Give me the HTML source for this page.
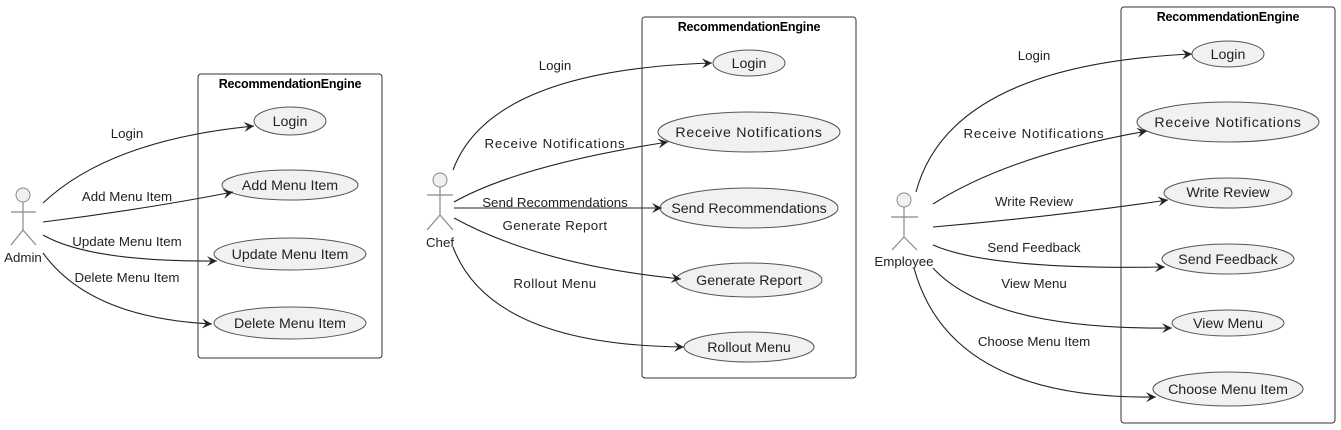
<!DOCTYPE html>
<html><head><meta charset="utf-8"><style>
html,body{margin:0;padding:0;background:#fff;}
svg{display:block;}
text{font-family:"Liberation Sans",sans-serif;fill:#222;}
.t{font-size:13.3px;text-anchor:middle;}
.u{font-size:14.2px;text-anchor:middle;}
.h{font-size:12.5px;font-weight:bold;text-anchor:middle;fill:#000;letter-spacing:-0.2px;}
.e{fill:#f1f1f1;stroke:#555;stroke-width:1;}
.b{fill:none;stroke:#333;stroke-width:1;}
.l{fill:none;stroke:#222;stroke-width:1.1;}
.a{fill:none;stroke:#888;stroke-width:1.2;}
</style></head><body>
<svg width="1341" height="430" viewBox="0 0 1341 430" xmlns="http://www.w3.org/2000/svg">
<defs><marker id="ar" markerWidth="12" markerHeight="10" refX="10" refY="5" orient="auto" markerUnits="userSpaceOnUse">
<path d="M0,0 L10,5 L0,10 L4,5 Z" fill="#222"/></marker></defs>

<!-- Admin -->
<circle cx="23" cy="195" r="7" fill="#f1f1f1" stroke="#888"/>
<path class="a" d="M23,202 V230 M11,212 H36 M23,230 L11,245 M23,230 L36,245"/>
<text class="t" x="23" y="262">Admin</text>
<rect class="b" x="198" y="74" width="184" height="284" rx="3"/>
<text class="h" x="290" y="88">RecommendationEngine</text>
<ellipse class="e" cx="290" cy="121" rx="36" ry="14"/><text class="u" x="290" y="126">Login</text>
<ellipse class="e" cx="290" cy="185" rx="68" ry="15"/><text class="u" x="290" y="190">Add Menu Item</text>
<ellipse class="e" cx="290" cy="254" rx="76" ry="16"/><text class="u" x="290" y="259">Update Menu Item</text>
<ellipse class="e" cx="290" cy="323" rx="76" ry="16"/><text class="u" x="290" y="328">Delete Menu Item</text>
<path class="l" marker-end="url(#ar)" d="M43,203 Q110,140 254,126"/>
<path class="l" marker-end="url(#ar)" d="M43,222 Q140,210 233,192"/>
<path class="l" marker-end="url(#ar)" d="M43,235 Q90,262 217,261"/>
<path class="l" marker-end="url(#ar)" d="M43,253 Q90,318 212,324"/>
<text class="t" x="127" y="138">Login</text>
<text class="t" x="127" y="201">Add Menu Item</text>
<text class="t" x="127" y="246">Update Menu Item</text>
<text class="t" x="127" y="282">Delete Menu Item</text>

<!-- Chef -->
<circle cx="440" cy="180" r="7" fill="#f1f1f1" stroke="#888"/>
<path class="a" d="M440,187 V215 M427,195 H453 M440,215 L427,230 M440,215 L453,230"/>
<text class="t" x="440" y="247">Chef</text>
<rect class="b" x="642" y="17" width="214" height="361" rx="3"/>
<text class="h" x="749" y="31">RecommendationEngine</text>
<ellipse class="e" cx="749" cy="63" rx="36" ry="13"/><text class="u" x="749" y="68">Login</text>
<ellipse class="e" cx="749" cy="132" rx="91" ry="20"/><text class="u" x="749" y="137" style="letter-spacing:0.7px">Receive Notifications</text>
<ellipse class="e" cx="749" cy="208" rx="89" ry="20"/><text class="u" x="749" y="213">Send Recommendations</text>
<ellipse class="e" cx="749" cy="280" rx="73" ry="17"/><text class="u" x="749" y="285">Generate Report</text>
<ellipse class="e" cx="749" cy="347" rx="65" ry="15"/><text class="u" x="749" y="352">Rollout Menu</text>
<path class="l" marker-end="url(#ar)" d="M453,170 Q490,70 712,63"/>
<path class="l" marker-end="url(#ar)" d="M454,202 Q520,165 668,142"/>
<path class="l" marker-end="url(#ar)" d="M454,208 L662,208"/>
<path class="l" marker-end="url(#ar)" d="M454,218 Q540,265 681,279"/>
<path class="l" marker-end="url(#ar)" d="M453,247 Q490,345 684,347"/>
<text class="t" x="555" y="70">Login</text>
<text class="t" x="555" y="148" style="letter-spacing:0.8px">Receive Notifications</text>
<text class="t" x="555" y="207">Send Recommendations</text>
<text class="t" x="555" y="230" style="letter-spacing:0.4px">Generate Report</text>
<text class="t" x="555" y="288" style="letter-spacing:0.4px">Rollout Menu</text>

<!-- Employee -->
<circle cx="904" cy="200" r="7" fill="#f1f1f1" stroke="#888"/>
<path class="a" d="M904,207 V237 M891,217 H918 M904,237 L892,250 M904,237 L917,250"/>
<text class="t" x="904" y="266">Employee</text>
<rect class="b" x="1121" y="7" width="214" height="416" rx="3"/>
<text class="h" x="1228" y="21">RecommendationEngine</text>
<ellipse class="e" cx="1228" cy="54" rx="36" ry="13"/><text class="u" x="1228" y="59">Login</text>
<ellipse class="e" cx="1228" cy="122" rx="91" ry="20"/><text class="u" x="1228" y="127" style="letter-spacing:0.7px">Receive Notifications</text>
<ellipse class="e" cx="1228" cy="193" rx="64" ry="15"/><text class="u" x="1228" y="197">Write Review</text>
<ellipse class="e" cx="1228" cy="259" rx="66" ry="15"/><text class="u" x="1228" y="264">Send Feedback</text>
<ellipse class="e" cx="1228" cy="323" rx="56" ry="13"/><text class="u" x="1228" y="328">View Menu</text>
<ellipse class="e" cx="1228" cy="389" rx="75" ry="17"/><text class="u" x="1228" y="394">Choose Menu Item</text>
<path class="l" marker-end="url(#ar)" d="M916,192 Q950,65 1192,54"/>
<path class="l" marker-end="url(#ar)" d="M933,204 Q1010,155 1147,131"/>
<path class="l" marker-end="url(#ar)" d="M933,227 Q1050,217 1168,200"/>
<path class="l" marker-end="url(#ar)" d="M933,245 Q990,270 1165,267"/>
<path class="l" marker-end="url(#ar)" d="M933,268 Q990,330 1172,328"/>
<path class="l" marker-end="url(#ar)" d="M914,268 Q950,400 1156,397"/>
<text class="t" x="1034" y="60">Login</text>
<text class="t" x="1034" y="138" style="letter-spacing:0.8px">Receive Notifications</text>
<text class="t" x="1034" y="206">Write Review</text>
<text class="t" x="1034" y="252">Send Feedback</text>
<text class="t" x="1034" y="288">View Menu</text>
<text class="t" x="1034" y="346">Choose Menu Item</text>
</svg>
</body></html>
